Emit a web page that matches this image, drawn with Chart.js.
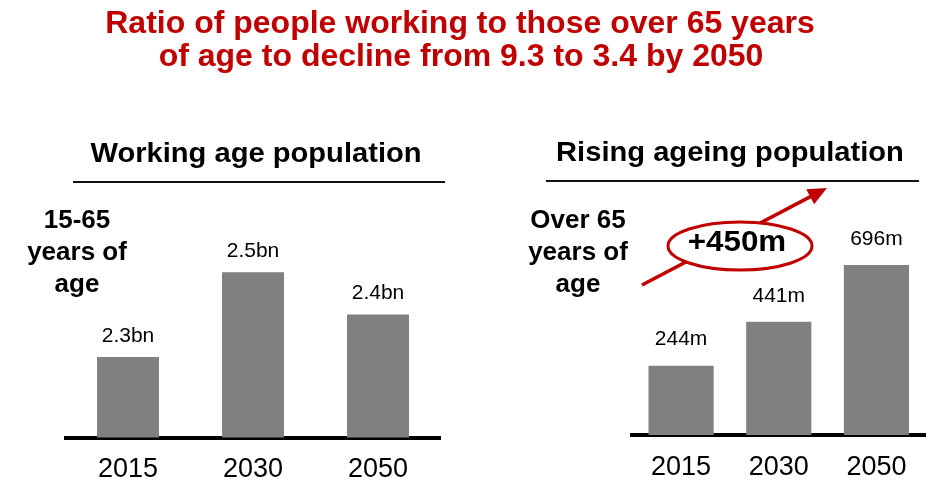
<!DOCTYPE html>
<html>
<head>
<meta charset="utf-8">
<script src="https://cdn.jsdelivr.net/npm/chart.js@4.4.1/dist/chart.umd.min.js"></script>
<style>
  body { margin: 0; background: #fff; }
  #wrap { position: relative; width: 928px; height: 483px; overflow: hidden;
          font-family: "Liberation Sans", Arial, sans-serif; color: #000; }
  canvas { position: absolute; top: 0; }
  .txt { position: absolute; white-space: nowrap; text-align: center; line-height: 1; }
  .title { color: #C00000; font-weight: bold; font-size: 32px; transform: translate(-50%, -50%); }
  .head { font-weight: bold; font-size: 28px; transform: translate(-50%, -50%) scaleX(1.04); }
  .side { font-weight: bold; font-size: 26px; line-height: 32px; transform: translate(-50%, -50%); }
  .rule { position: absolute; height: 2px; background: #111; }
</style>
</head>
<body>
<div id="wrap">
  <canvas id="chartWorking" width="464" height="502" style="left:0"></canvas>
  <canvas id="chartAgeing" width="464" height="502" style="left:464px"></canvas>

  <div class="txt title" style="left:460px; top:22px">Ratio of people working to those over 65 years</div>
  <div class="txt title" style="left:461px; top:55px">of age to decline from 9.3 to 3.4 by 2050</div>

  <div class="txt head" style="left:256px; top:153px">Working age population</div>
  <div class="rule" style="left:73px; top:181px; width:372px"></div>
  <div class="txt head" style="left:730px; top:152px">Rising ageing population</div>
  <div class="rule" style="left:546px; top:180px; width:373px"></div>

  <div class="txt side" style="left:77px; top:251px">15-65<br>years of<br>age</div>
  <div class="txt side" style="left:578px; top:251px">Over 65<br>years of<br>age</div>
</div>

<script>
// Population figures
const years = ["2015", "2030", "2050"];
const workingAge = [2.3, 2.5, 2.4];   // bn, aged 15-65
const over65 = [244, 441, 696];       // m, aged over 65

const FONT = '"Liberation Sans", Arial, sans-serif';
const BAR_GREY = "#808080";
const RED = "#C00000";

// Writes the value above each bar
const valueLabels = {
    id: "valueLabels",
    afterDatasetsDraw(chart, args, opts) {
        const ctx = chart.ctx;
        const meta = chart.getDatasetMeta(0);
        ctx.save();
        ctx.fillStyle = "#000";
        ctx.font = "21px " + FONT;
        ctx.textAlign = "center";
        ctx.textBaseline = "middle";
        meta.data.forEach((bar, i) => {
            ctx.fillText(opts.format(chart.data.datasets[0].data[i]), bar.x, bar.y - opts.offset);
        });
        ctx.restore();
    }
};

// Red arrow through the "+450m" ellipse
const growthCallout = {
    id: "growthCallout",
    afterDraw(chart) {
        const ctx = chart.ctx;
        const x0 = 178, y0 = 285, tipX = 363, tipY = 188;
        const len = Math.hypot(tipX - x0, tipY - y0);
        const ux = (tipX - x0) / len, uy = (tipY - y0) / len;
        const headLen = 19, headHalf = 8.5;

        ctx.save();
        ctx.strokeStyle = RED;
        ctx.fillStyle = RED;
        ctx.lineWidth = 3.5;
        ctx.beginPath();
        ctx.moveTo(x0, y0);
        ctx.lineTo(tipX - ux * (headLen - 2), tipY - uy * (headLen - 2));
        ctx.stroke();

        const bx = tipX - ux * headLen, by = tipY - uy * headLen;
        ctx.beginPath();
        ctx.moveTo(tipX, tipY);
        ctx.lineTo(bx - uy * headHalf, by + ux * headHalf);
        ctx.lineTo(bx + uy * headHalf, by - ux * headHalf);
        ctx.closePath();
        ctx.fill();

        // ellipse covers the middle of the arrow
        ctx.beginPath();
        ctx.ellipse(276, 246, 72, 24, 0, 0, Math.PI * 2);
        ctx.fillStyle = "#fff";
        ctx.fill();
        ctx.lineWidth = 3;
        ctx.stroke();

        const rise = Math.round((over65[2] - over65[0]) / 10) * 10;
        ctx.translate(273, 243);
        ctx.scale(1.08, 1);
        ctx.fillStyle = "#000";
        ctx.font = "bold 29px " + FONT;
        ctx.textAlign = "center";
        ctx.textBaseline = "middle";
        ctx.fillText("+" + rise + "m", 0, 0);
        ctx.restore();
    }
};

function xAxis() {
    return {
        grid: { display: false, drawTicks: false },
        border: { display: true, color: "#000", width: 4 },
        ticks: { color: "#000", padding: 16, font: { family: FONT, size: 27 } }
    };
}

// Working age population
new Chart(document.getElementById("chartWorking"), {
    type: "bar",
    data: {
        labels: years,
        datasets: [{
            data: workingAge,
            backgroundColor: BAR_GREY,
            categoryPercentage: 1,
            barPercentage: 0.496
        }]
    },
    options: {
        responsive: false,
        animation: false,
        layout: { padding: { left: 65.5, right: 23.5, top: 200, bottom: 0 } },
        plugins: {
            legend: { display: false },
            tooltip: { enabled: false },
            valueLabels: { offset: 21, format: v => v.toFixed(1) + "bn" }
        },
        scales: {
            x: xAxis(),
            y: { display: false, min: 2.11, max: 2.67 }
        }
    },
    plugins: [valueLabels]
});

// Rising ageing population
new Chart(document.getElementById("chartAgeing"), {
    type: "bar",
    data: {
        labels: years,
        datasets: [{
            data: over65,
            base: -67.5,
            backgroundColor: BAR_GREY,
            categoryPercentage: 1,
            barPercentage: 0.667
        }]
    },
    options: {
        responsive: false,
        animation: false,
        layout: { padding: { left: 168.25, right: 2.75, top: 200, bottom: 2.6 } },
        plugins: {
            legend: { display: false },
            tooltip: { enabled: false },
            valueLabels: { offset: 26, format: v => v + "m" }
        },
        scales: {
            x: xAxis(),
            y: { display: false, min: -67.5, max: 988 }
        }
    },
    plugins: [valueLabels, growthCallout]
});
</script>
</body>
</html>
